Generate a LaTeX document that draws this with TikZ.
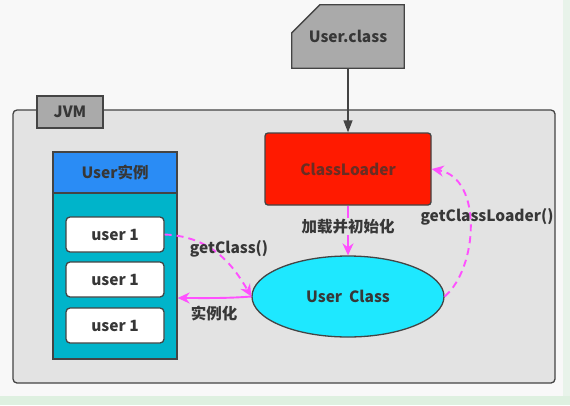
\documentclass[tikz,border=0pt]{standalone}
\usepackage{fontspec}
\setmainfont{Noto Sans CJK SC}
\usetikzlibrary{arrows.meta,shapes.geometric}
\definecolor{bgc}{RGB}{248,248,248}
\definecolor{greenc}{RGB}{222,240,224}
\definecolor{jvmc}{RGB}{227,227,227}
\definecolor{linec}{RGB}{68,68,68}
\definecolor{tabc}{RGB}{170,170,170}
\definecolor{redc}{RGB}{255,26,0}
\definecolor{cyanc}{RGB}{30,232,255}
\definecolor{bluec}{RGB}{42,140,245}
\definecolor{tealc}{RGB}{0,180,202}
\definecolor{magc}{RGB}{255,80,255}
\definecolor{txtc}{RGB}{55,55,55}
\definecolor{cltxt}{RGB}{105,45,35}
\begin{document}
\begin{tikzpicture}[x=1pt,y=-1pt,
  every node/.style={font=\fontsize{15.5}{18}\selectfont\bfseries, text=txtc, inner sep=0pt},
  box/.style={draw=linec, line width=1.3pt},
  lab/.style={font=\fontsize{15.5}{18}\selectfont\bfseries, text=txtc},
  mag/.style={draw=magc, line width=1.9pt, -{Stealth[length=12pt,width=11pt]}},
  magd/.style={mag, dash pattern=on 7pt off 5pt},
  darkarrow/.style={draw=linec, line width=1.3pt, -{Triangle[length=12pt,width=9pt]}}]
\useasboundingbox (0,0) rectangle (570,405);
\fill[bgc] (0,0) rectangle (570,405);
\fill[greenc] (0,396) rectangle (570,405);
\fill[greenc!60!bgc] (563,0) rectangle (570,396);
% JVM frame
\node[box, fill=jvmc, rounded corners=4pt, minimum width=542pt, minimum height=273pt] (jvmframe) at (284,246.5) {};
\node[box, fill=tabc, minimum width=66pt, minimum height=32pt] (jvm) at (70,112) {JVM};
% User.class
\node[minimum width=112pt, minimum height=63pt] (uc) at (348,36.5) {};
\draw[box, fill=tabc] (uc.south west) -- (uc.south east) -- (uc.north east) -- ([xshift=28pt]uc.north west) -- ([yshift=-28pt]uc.north west) -- cycle;
\node at (uc.center) {User.class};
% ClassLoader
\node[box, fill=redc, rounded corners=3pt, minimum width=166pt, minimum height=72pt, text=cltxt] (cl) at (348,169) {ClassLoader};
% User Class ellipse
\node[box, ellipse, fill=cyanc, minimum width=192pt, minimum height=81pt] (ucls) at (348,296.5) {User\hspace{0.45em}Class};
% panel
\node[box, fill=bluec, minimum width=124pt, minimum height=41pt] (hdr) at (115,172.5) {User实例};
\node[box, fill=tealc, minimum width=124pt, minimum height=166pt] (body) at (115,276) {};
\node[box, fill=white, rounded corners=4pt, minimum width=98pt, minimum height=35pt] (u1) at (115,234.5) {user 1};
\node[box, fill=white, rounded corners=4pt, minimum width=98pt, minimum height=35pt] (u2) at (115,279.5) {user 1};
\node[box, fill=white, rounded corners=4pt, minimum width=98pt, minimum height=35pt] (u3) at (115,325.5) {user 1};
% connectors
\draw[darkarrow] (uc.south) -- (cl.north);
\draw[mag] (cl.south) -- node[pos=0.42, fill=jvmc, inner sep=1pt] (l1) {加载并初始化} (ucls.north);
\draw[magd] (u1.east) .. controls +(50,2) and +(-16,-27) .. (ucls.west);
\draw[mag] (ucls.west) .. controls +(-25,2) and +(25,0) .. ([yshift=-22pt]body.east);
\draw[magd] (ucls.east) .. controls (478,268) and (483,178) .. (cl.east);
% labels
\node[lab] (l2) at (229,249) {getClass()};
\node[lab] (l3) at (214,313) {实例化};
\node[lab] (l4) at (487,217) {getClassLoader()};
\end{tikzpicture}
\end{document}
